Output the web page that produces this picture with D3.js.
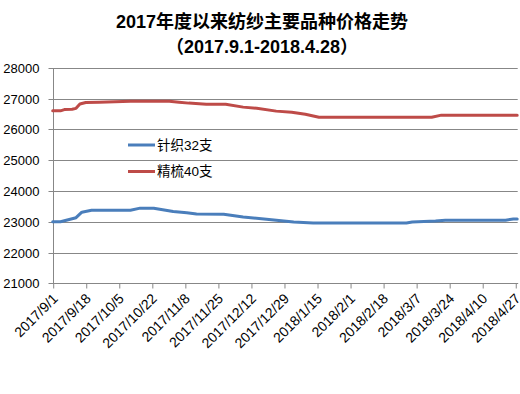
<!DOCTYPE html>
<html>
<head>
<meta charset="utf-8">
<script src="https://cdn.jsdelivr.net/npm/d3@7/dist/d3.min.js"></script>
<style>
  body { margin: 0; background: #fff; }
  svg { display: block; }
</style>
</head>
<body>
<svg id="chart" width="520" height="394"></svg>
<script>
// chart text
var titleLines = ['2017年度以来纺纱主要品种价格走势', '（2017.9.1-2018.4.28）']
var seriesNames = ['针织32支', '精梳40支']

// axis ticks
var yTicks = [21000, 22000, 23000, 24000, 25000, 26000, 27000, 28000]
var xTickLabels = ['2017/9/1', '2017/9/18', '2017/10/5', '2017/10/22', '2017/11/8',
  '2017/11/25', '2017/12/12', '2017/12/29', '2018/1/15', '2018/2/1', '2018/2/18',
  '2018/3/7', '2018/3/24', '2018/4/10', '2018/4/27']
var dateRange = ['2017/9/1', '2018/4/28']

// 针织32支
var knitDates = ['2017/9/1', '2017/9/5', '2017/9/10', '2017/9/13', '2017/9/16', '2017/9/21',
  '2017/10/11', '2017/10/16', '2017/10/23', '2017/11/2', '2017/11/9', '2017/11/14',
  '2017/11/28', '2017/12/8', '2017/12/20', '2018/1/3', '2018/1/13', '2018/3/2',
  '2018/3/5', '2018/3/17', '2018/3/22', '2018/4/22', '2018/4/26', '2018/4/28']
var knitValues = [23000, 23000, 23080, 23130, 23310, 23370,
  23370, 23440, 23440, 23330, 23290, 23250,
  23240, 23150, 23080, 22990, 22960, 22960,
  22990, 23020, 23050, 23050, 23090, 23090]

// 精梳40支
var combDates = ['2017/9/1', '2017/9/5', '2017/9/7', '2017/9/11', '2017/9/13', '2017/9/15',
  '2017/9/18', '2017/9/25', '2017/10/11', '2017/10/31', '2017/11/5', '2017/11/10',
  '2017/11/19', '2017/11/29', '2017/12/8', '2017/12/15', '2017/12/25', '2018/1/2',
  '2018/1/9', '2018/1/16', '2018/3/15', '2018/3/20', '2018/4/28']
var combValues = [26600, 26600, 26640, 26650, 26680, 26820,
  26870, 26880, 26910, 26910, 26880, 26850,
  26810, 26810, 26720, 26680, 26590, 26550,
  26490, 26390, 26390, 26460, 26460]

var colors = ['#4a7ebb', '#be4b48']

var parseDate = d3.timeParse('%Y/%m/%d')
var svg = d3.select('#chart')
var margin = {left: 52.7, right: 517.2, top: 67.7, bottom: 283.3}

var x = d3.scaleTime().domain(dateRange.map(parseDate)).range([margin.left, margin.right])
var y = d3.scaleLinear().domain([21000, 28000]).range([margin.bottom, margin.top])

// title
svg.selectAll('text.title')
  .data(titleLines)
  .enter().append('text')
  .attr('class', 'title')
  .attr('x', 262)
  .attr('y', (d, i) => 28 + i * 25)
  .attr('text-anchor', 'middle')
  .style('font-family', '"Liberation Sans", "Noto Sans CJK SC", sans-serif')
  .style('font-size', '18px')
  .style('font-weight', 'bold')
  .text(d => d)

// gridlines
svg.append('g')
  .selectAll('line')
  .data(yTicks.slice(1))
  .enter().append('line')
  .attr('x1', margin.left).attr('x2', margin.right + 0.5)
  .attr('y1', d => Math.round(y(d)) + 0.5)
  .attr('y2', d => Math.round(y(d)) + 0.5)
  .attr('stroke', '#878787')

// y axis
var yAxis = svg.append('g')
  .attr('transform', 'translate(' + (Math.round(margin.left) + 0.5) + ',0)')
  .call(d3.axisLeft(y).tickValues(yTicks).tickSize(5).tickPadding(9).tickFormat(d3.format('d')))
yAxis.select('.domain').attr('stroke', '#878787')
  .attr('d', 'M0,' + (Math.round(margin.top) + 0.5) + 'V' + (Math.round(margin.bottom) + 0.5))
yAxis.selectAll('.tick').attr('transform', d => 'translate(0,' + (Math.round(y(d)) + 0.5) + ')')
yAxis.selectAll('.tick line').attr('stroke', '#878787')
yAxis.selectAll('.tick text')
  .style('font-family', '"Liberation Sans", Arial, sans-serif')
  .style('font-size', '13px')
  .attr('fill', '#000')

// x axis
var xAxis = svg.append('g')
  .attr('transform', 'translate(0.5,' + (Math.round(margin.bottom) + 0.5) + ')')
  .call(d3.axisBottom(x).tickValues(xTickLabels.map(parseDate)).tickSize(5).tickFormat(d3.timeFormat('%Y/%-m/%-d')))
xAxis.select('.domain').attr('stroke', '#878787').attr('d', 'M' + margin.left + ',0H' + (margin.right + 0.5))
xAxis.selectAll('.tick line').attr('stroke', '#878787')
xAxis.selectAll('.tick text')
  .style('font-family', '"Liberation Sans", Arial, sans-serif')
  .style('font-size', '14px')
  .attr('fill', '#000')
  .attr('text-anchor', 'end')
  .attr('dy', null)
  .attr('y', 0)
  .attr('transform', 'translate(5,16) rotate(-45)')

// lines
var line = d3.line()
  .x(d => x(d[0]))
  .y(d => y(d[1]))

var series = [
  knitDates.map((d, i) => [parseDate(d), knitValues[i]]),
  combDates.map((d, i) => [parseDate(d), combValues[i]])
]

svg.append('g')
  .selectAll('path')
  .data(series)
  .enter().append('path')
  .attr('d', line)
  .attr('fill', 'none')
  .attr('stroke', (d, i) => colors[i])
  .attr('stroke-width', 3)
  .attr('stroke-linejoin', 'round')
  .attr('stroke-linecap', 'round')

// legend
var legend = svg.append('g')
  .selectAll('g')
  .data(seriesNames)
  .enter().append('g')
  .attr('transform', (d, i) => 'translate(128,' + (145 + i * 26.5) + ')')
legend.append('line')
  .attr('x1', 0).attr('x2', 27)
  .attr('stroke', (d, i) => colors[i])
  .attr('stroke-width', 3)
legend.append('text')
  .attr('x', 29)
  .attr('dy', '0.36em')
  .style('font-family', '"Liberation Sans", "Noto Sans CJK SC", sans-serif')
  .style('font-size', '13.5px')
  .text(d => d)
</script>
</body>
</html>
